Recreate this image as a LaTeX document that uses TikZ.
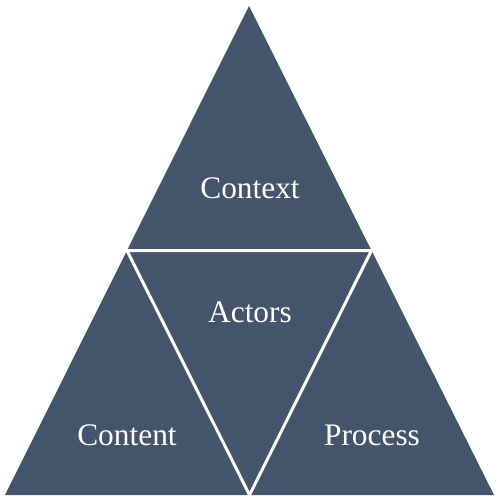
\documentclass[tikz,border=0pt]{standalone}
\usepackage{fontspec}
\setmainfont{Liberation Serif}
\definecolor{slate}{HTML}{44546A}

\begin{document}
\begin{tikzpicture}[x=1bp,y=-1bp,
      part/.style={fill=slate,draw=none},
      split/.style={draw=white,line width=3bp},
      label/.style={text=white,font=\fontsize{31.5}{36}\selectfont}]
    \useasboundingbox (0,0) rectangle (500,502);
    % corners and midpoints
    \coordinate (top) at (249,6);
    \coordinate (left) at (5,495);
    \coordinate (right) at (494,495);
    \coordinate (midl) at (127,250.5);
    \coordinate (midr) at (371.5,250.5);
    \coordinate (midb) at (249.5,495);
    \fill[part] (top) -- (left) -- (right) -- cycle;
    \draw[split] (midl) -- (midr) -- (midb) -- cycle;
    \node[label] (context) at (250,188) {Context};
    \node[label] (actors) at (250,312) {Actors};
    \node[label] (content) at (127,435) {Content};
    \node[label] (process) at (372,435) {Process};
  \end{tikzpicture}
\end{document}
